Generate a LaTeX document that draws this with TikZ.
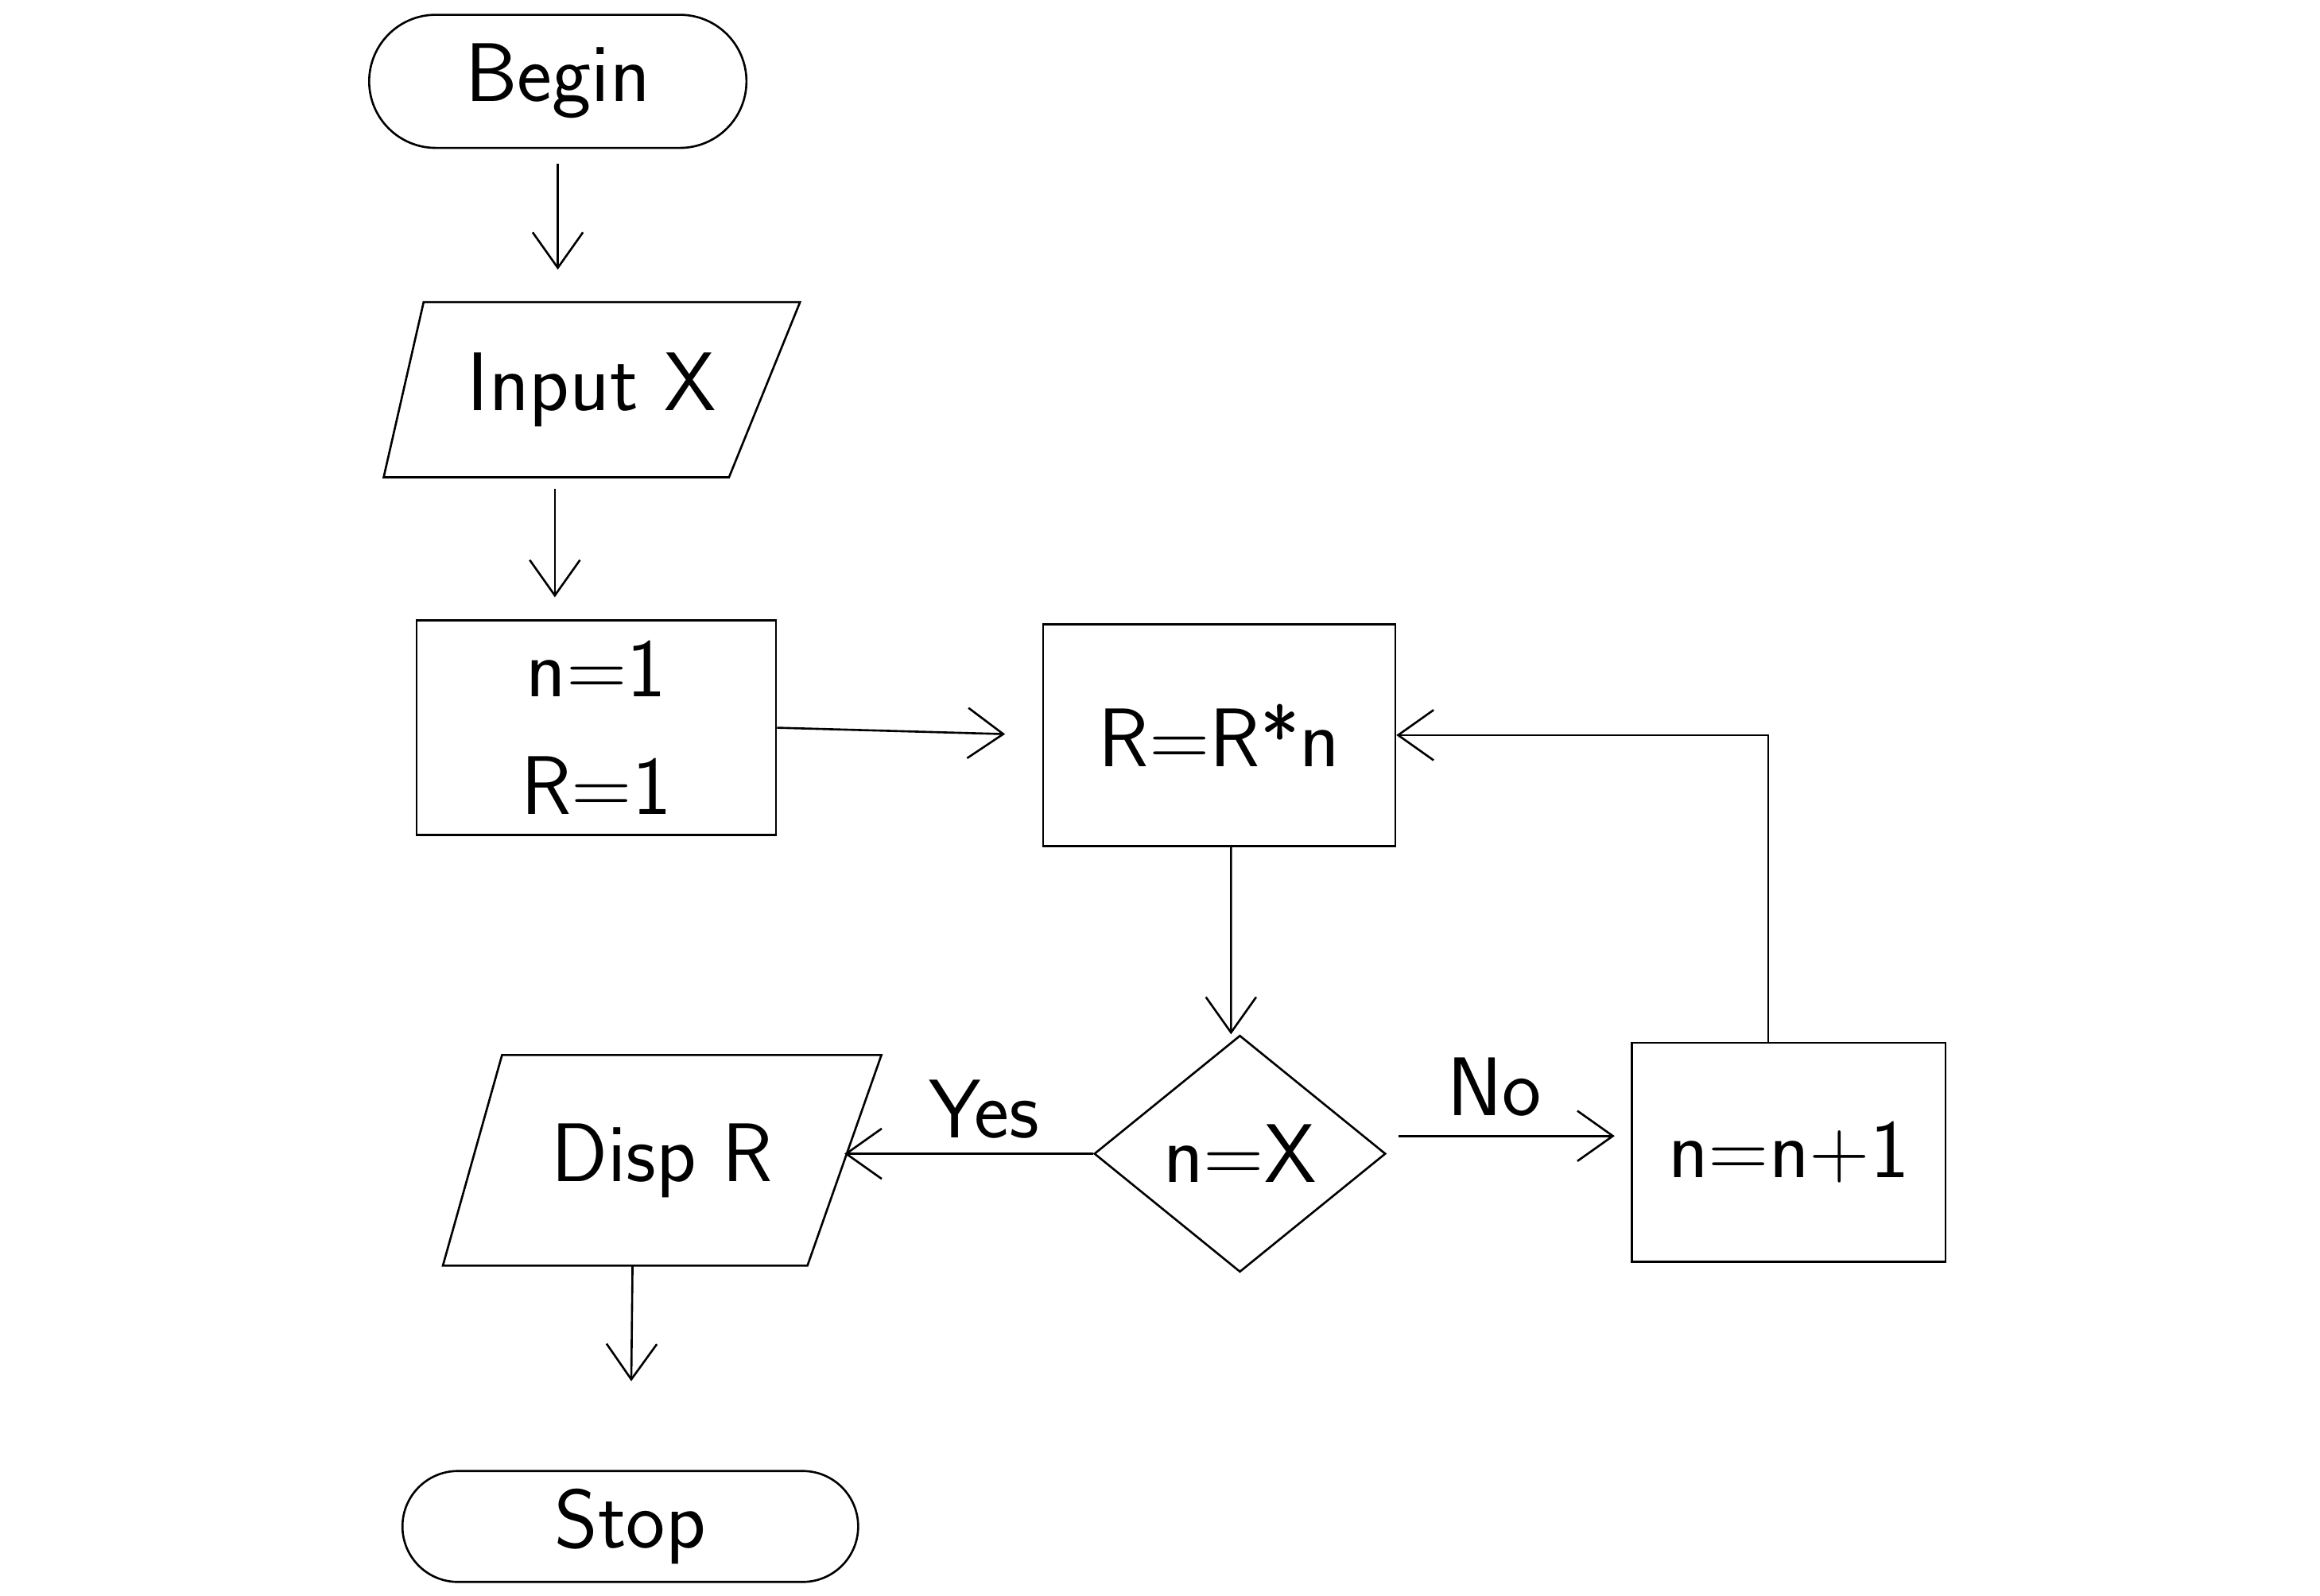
\documentclass[tikz,border=0pt]{standalone}
\usetikzlibrary{shapes.geometric,shapes.misc,arrows.meta}
\begin{document}
\begin{tikzpicture}[x=0.1mm,y=-0.1mm,
  every node/.style={font=\sffamily\fontsize{16}{22.7}\selectfont},
  shapebox/.style={draw,line width=0.4pt,inner sep=0pt},
  outline/.style={draw,line width=0.4pt},
  terminal/.style={shapebox,rounded rectangle},
  iobox/.style={rectangle,inner sep=0pt},
  procbox/.style={shapebox,rectangle},
  decision/.style={shapebox,diamond},
  flow/.style={draw,line width=0.4pt,-{Straight Barb[length=2.4mm,width=3.4mm,line width=0.4pt]}},
  lbl/.style={inner sep=0pt}]
\useasboundingbox (0,0) rectangle (1568,1079);

% nodes
\node[terminal,minimum width=25.5mm,minimum height=9mm] (begin) at (377,55) {Begin};
\node[iobox,minimum width=28mm,minimum height=11.7mm] (input) at (400,263.5) {Input X};
\node[procbox,minimum width=24.3mm,minimum height=14.5mm,align=center] (init) at (403,492) {n=1\\R=1};
\node[procbox,minimum width=23.8mm,minimum height=15mm] (calc) at (824,497) {R=R*n};
\node[decision,minimum width=19.7mm,minimum height=16mm] (test) at (838,780) {n=X};
\node[procbox,minimum width=21.2mm,minimum height=14.8mm] (incr) at (1209,779) {n=n+1};
\node[iobox,minimum width=29.5mm,minimum height=14.1mm] (disp) at (447.5,784.5) {Disp R};
\node[terminal,minimum width=30.8mm,minimum height=7.5mm] (stop) at (426,1032) {Stop};

% parallelogram outlines of the input/output boxes
\draw[outline] ([xshift=2.7mm]input.north west) -- (input.north east)
  -- ([xshift=-4.8mm]input.south east) -- (input.south west) -- cycle;
\draw[outline] ([xshift=4mm]disp.north west) -- (disp.north east)
  -- ([xshift=-5mm]disp.south east) -- (disp.south west) -- cycle;

% helper points on the slanted sides / diamond
\coordinate (dispin) at ([xshift=-2.5mm]disp.east);
\coordinate (nofrom) at ([yshift=1.2mm]test.east);

% connectors
\draw[flow,shorten <=1mm,shorten >=2.2mm] (begin.south) -- (input.north -| begin.south);
\draw[flow,shorten <=0.8mm,shorten >=1.5mm] ([xshift=-2.5mm]input.south) -- ([xshift=-2.8mm]init.north);
\draw[flow,shorten >=2.5mm] (init.east) -- (calc.west);
\draw[flow] ([xshift=0.8mm]calc.south) -- ([xshift=-0.6mm]test.north);
\draw[flow] (test.west) -- (dispin |- test.west);
\draw[flow,shorten <=0.8mm,shorten >=1.1mm] (nofrom) -- (incr.west |- nofrom);
\draw[flow] ([xshift=-1.4mm]incr.north) |- (calc.east);
\draw[flow,shorten >=6mm] ([xshift=-2mm]disp.south) -- (stop.north);

% branch labels
\node[lbl] (yes) at (665,750) {Yes};
\node[lbl] (no) at (1010,735) {No};
\end{tikzpicture}
\end{document}
